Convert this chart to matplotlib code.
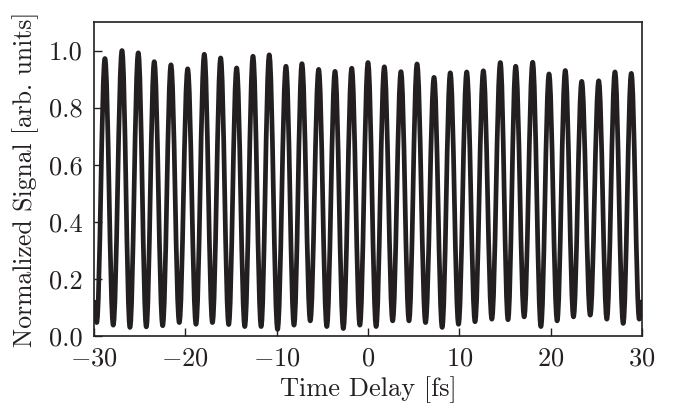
import matplotlib
matplotlib.use('Agg')
import matplotlib.pyplot as plt
from matplotlib.path import Path
from matplotlib.patches import PathPatch

plt.rcParams['font.family'] = 'serif'
plt.rcParams['font.serif'] = ['cmr10']
plt.rcParams['mathtext.fontset'] = 'cm'
plt.rcParams['axes.formatter.use_mathtext'] = True

# Fringe maxima (time in fs, normalized signal)
peak_times = [-28.80, -26.93, -25.15, -23.40, -21.57, -19.74, -17.92, -16.13,
              -14.38, -12.59, -10.81, -8.98, -7.23, -5.40, -3.61, -1.78,
              0.00, 1.79, 3.61, 5.37, 7.23, 9.01, 10.81, 12.63,
              14.49, 16.17, 18.03, 19.82, 21.60, 23.40, 25.26, 27.04, 28.83]
peak_values = [0.972, 1.000, 0.992, 0.961, 0.950, 0.936, 0.987, 0.974,
               0.939, 0.980, 0.985, 0.945, 0.954, 0.934, 0.927, 0.938,
               0.958, 0.943, 0.926, 0.953, 0.906, 0.922, 0.925, 0.929,
               0.958, 0.945, 0.959, 0.918, 0.930, 0.892, 0.894, 0.925, 0.920]

# Fringe minima
trough_times = [-29.70, -27.89, -26.06, -24.27, -22.48, -20.66, -18.83, -17.03,
                -15.25, -13.49, -11.70, -9.90, -8.10, -6.32, -4.51, -2.70,
                -0.89, 0.89, 2.70, 4.49, 6.30, 8.12, 9.91, 11.72,
                13.56, 15.33, 17.10, 18.93, 20.71, 22.50, 24.33, 26.15, 27.94, 29.70]
trough_values = [0.047, 0.038, 0.030, 0.032, 0.036, 0.047, 0.041, 0.047,
                 0.040, 0.033, 0.033, 0.023, 0.038, 0.053, 0.033, 0.026,
                 0.038, 0.033, 0.053, 0.053, 0.047, 0.030, 0.041, 0.050,
                 0.059, 0.057, 0.067, 0.033, 0.053, 0.067, 0.073, 0.059, 0.044, 0.059]

# Signal at the edges of the scan
edge_times = [-30.0, 30.0]
edge_values = [0.12, 0.12]

x_ticks = [-30, -20, -10, 0, 10, 20, 30]
y_ticks = [0.0, 0.2, 0.4, 0.6, 0.8, 1.0]

fig = plt.figure(figsize=(6.77, 4.05), dpi=100)
ax = fig.add_axes([0.1388, 0.1704, 0.8095, 0.7753])

# interleave minima and maxima in time order
ext_t, ext_v = [], []
for i in range(len(trough_times)):
    ext_t.append(trough_times[i]); ext_v.append(trough_values[i])
    if i < len(peak_times):
        ext_t.append(peak_times[i]); ext_v.append(peak_values[i])

# smooth cubic Bezier segments between extrema (horizontal tangents)
a = 0.364
verts = [(edge_times[0], edge_values[0]), (ext_t[0], ext_v[0])]
codes = [Path.MOVETO, Path.LINETO]
for i in range(1, len(ext_t)):
    t0, v0 = ext_t[i - 1], ext_v[i - 1]
    t1, v1 = ext_t[i], ext_v[i]
    d = t1 - t0
    verts += [(t0 + a * d, v0), (t1 - a * d, v1), (t1, v1)]
    codes += [Path.CURVE4] * 3
verts.append((edge_times[1], edge_values[1]))
codes.append(Path.LINETO)

ax.add_patch(PathPatch(Path(verts, codes), fill=False, lw=3.4, ec='#231f20',
                       capstyle='round', joinstyle='round'))

ax.set_xlim(-30, 30)
ax.set_ylim(0, 1.1)
ax.set_xticks(x_ticks)
ax.set_yticks(y_ticks)
ax.yaxis.set_major_formatter(matplotlib.ticker.FormatStrFormatter('%.1f'))
ax.tick_params(direction='in', top=False, right=False, length=6, width=1.0,
               labelsize=19, pad=8, colors='#231f20')
for s in ax.spines.values():
    s.set_linewidth(1.2)
    s.set_color('#231f20')

ax.set_xlabel('Time Delay [fs]', fontsize=19, color='#231f20', labelpad=4)
ax.set_ylabel('Normalized Signal [arb. units]', fontsize=18.5, color='#231f20', labelpad=7)

fig.savefig('out.png', dpi=100)
